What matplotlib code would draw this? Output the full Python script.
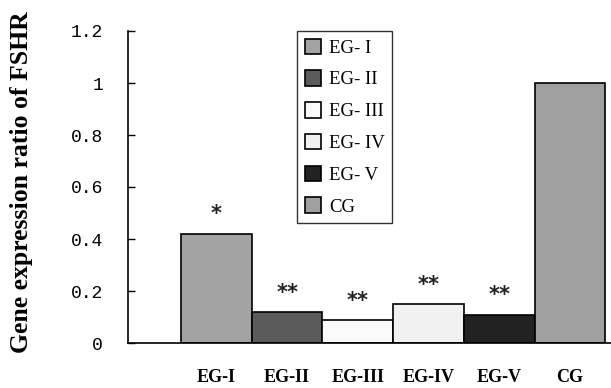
import matplotlib.pyplot as plt
import numpy as np

groups = ["EG-I", "EG-II", "EG-III", "EG-IV", "EG-V", "CG"]
legend_labels = ["EG- I", "EG- II", "EG- III", "EG- IV", "EG- V", "CG"]
ratios = [0.42, 0.119, 0.088, 0.149, 0.108, 1.0]
stars = ["*", "**", "**", "**", "**", ""]
colors = ["#a3a3a3", "#5b5b5b", "#f9f9f9", "#f1f1f1", "#222222", "#a0a0a0"]

fig = plt.figure(figsize=(6.11, 3.88), dpi=100)
ax = fig.add_axes([128 / 611, 1 - 343 / 388, 483 / 611, 312 / 388])

x = np.arange(len(groups))
bars = ax.bar(x, ratios, width=1.0, color=colors, edgecolor="black", linewidth=1.2)

for xi, r, s in zip(x, ratios, stars):
    if s:
        ax.text(xi, r + 0.075, s, ha="center", va="center", fontsize=15,
                fontweight="bold", family="DejaVu Sans", color="#222222")

ax.set_xlim(-1.25, 5.58)
ax.set_ylim(0, 1.2)
ax.set_yticks(np.arange(0, 1.21, 0.2))
ax.set_yticklabels(["0", "0.2", "0.4", "0.6", "0.8", "1", "1.2"],
                   family="Liberation Mono", fontsize=13)
ax.tick_params(axis="y", direction="in", length=5, width=1, pad=18)
ax.set_xticks(x)
ax.set_xticklabels(groups, family="Liberation Serif", fontweight="bold", fontsize=13)
ax.tick_params(axis="x", length=0, pad=19)

for side in ("top", "right"):
    ax.spines[side].set_visible(False)
for side in ("left", "bottom"):
    ax.spines[side].set_linewidth(1.2)

leg = ax.legend(handles=list(bars), labels=legend_labels, loc="upper left",
                bbox_to_anchor=((297 - 128) / 483, 1.0), frameon=True, fancybox=False,
                prop={"family": "Liberation Serif", "size": 13.5},
                handlelength=0.9, handleheight=0.9, handletextpad=0.4,
                labelspacing=0.72, borderpad=0.4, borderaxespad=0)
leg.get_frame().set_edgecolor("black")
leg.get_frame().set_linewidth(1.0)

fig.text(22 / 611, 1 - 182 / 388, "Gene expression ratio of FSHR", rotation=90,
         ha="center", va="center", family="Liberation Serif", fontweight="bold",
         fontsize=18.5)

fig.savefig("out.png", dpi=100)
